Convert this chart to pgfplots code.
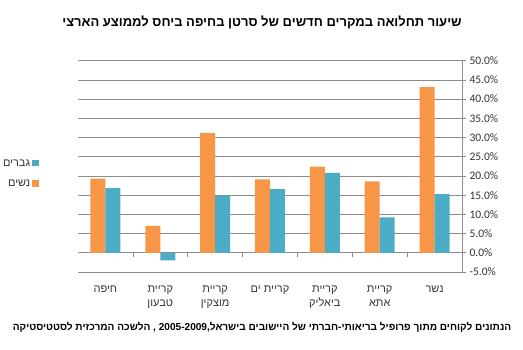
\documentclass[border=0pt]{standalone}
\usepackage{pgfplots}
\pgfplotsset{compat=1.18}
\usepackage{fontspec}
\setmainfont{Liberation Sans}
\newfontfamily\heb[Script=Hebrew]{Liberation Sans}
\newfontfamily\calfont{Carlito}
\TeXXeTstate=1
\definecolor{orn}{HTML}{F79646}
\definecolor{blu}{HTML}{4BACC6}
\definecolor{grd}{HTML}{8C8C8C}
\begin{document}
\begin{tikzpicture}[x=1pt,y=1pt]
\useasboundingbox (0,0) rectangle (523,350);
\node[font=\heb\bfseries\fontsize{13}{15}\selectfont] at (262,328) {\beginR שיעור תחלואה במקרים חדשים של סרטן בחיפה ביחס לממוצע הארצי\endR};
\begin{axis}[at={(78pt,78pt)}, anchor=south west, scale only axis,
  width=384pt, height=211.3pt,
  ymin=-5, ymax=50, ytick={-5,0,...,50}, xmin=-0.5, xmax=6.5,
  ybar=0pt, bar width=15pt,
  axis y line*=right, axis x line*=bottom, x axis line style={draw=none},
  ymajorgrids, grid style={grd, line width=0.6pt},
  y axis line style={grd, line width=0.6pt},
  ytick style={grd, line width=0.6pt}, tick align=outside, major tick length=4pt,
  xtick={0,...,6}, xtick style={draw=none},
  xticklabels={{\beginR חיפה\endR},{\beginR קריית\endR\\\beginR טבעון\endR},{\beginR קריית\endR\\\beginR מוצקין\endR},{\beginR קריית ים\endR},{\beginR קריית\endR\\\beginR ביאליק\endR},{\beginR קריית\endR\\\beginR אתא\endR},{\beginR נשר\endR}},
  xticklabel style={font=\heb\fontsize{11}{14}\selectfont, align=center, anchor=north, yshift=-6pt, text=black!80},
  yticklabel style={font=\calfont\fontsize{11.5}{13}\selectfont, text=black!80},
  /pgf/number format/assume math mode=true,
  yticklabel={\pgfmathprintnumber[fixed,fixed zerofill,precision=1]{\tick}\%},
  legend style={draw=none, fill=none, at={(-0.094,0.466)}, anchor=east,
    font=\heb\fontsize{11}{13}\selectfont, row sep=8pt, text=black!80},
  legend cell align=right, legend plot pos=right, reverse legend,
  legend image code/.code={\fill[#1,draw=none] (0pt,-3pt) rectangle (6.5pt,3.5pt);},
]
\addplot[fill=orn, draw=none] coordinates {(0,19.3) (1,7.0) (2,31.2) (3,19.1) (4,22.4) (5,18.6) (6,43.1)};
\addplot[fill=blu, draw=none] coordinates {(0,16.8) (1,-2.0) (2,14.9) (3,16.6) (4,20.8) (5,9.2) (6,15.3)};
\legend{{\beginR נשים\endR},{\beginR גברים\endR}}
\pgfplotsinvokeforeach{0.5,1.5,2.5,3.5,4.5,5.5}{\draw[grd, line width=0.6pt] (axis cs:#1,0) -- ([yshift=-4pt]axis cs:#1,0);}
\end{axis}
\node[font=\heb\bfseries\fontsize{10.1}{12}\selectfont] at (262,23) {\beginR הנתונים לקוחים מתוך פרופיל בריאותי-חברתי של היישובים בישראל,\beginL 2005-2009\endL{} , הלשכה המרכזית לסטטיסטיקה\endR};
\end{tikzpicture}
\end{document}
